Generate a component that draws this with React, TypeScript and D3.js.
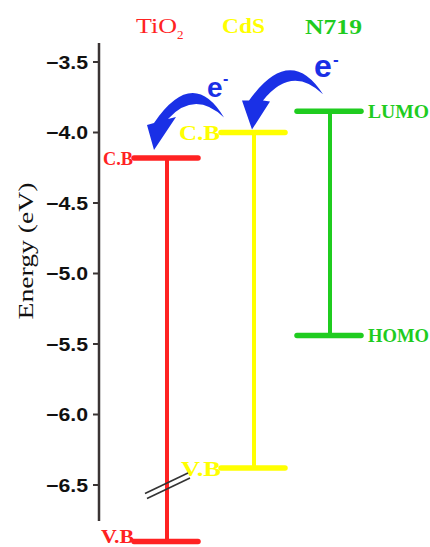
import React from 'react';
import * as d3 from 'd3';

// band edges (eV); TiO2 V.B sits below the axis break
const materials = ['TiO2', 'CdS', 'N719'];
const upperLevels = [-4.18, -4.0, -3.85];
const lowerLevels = [-6.9, -6.38, -5.44];
const upperLabels = ['C.B', 'C.B', 'LUMO'];
const lowerLabels = ['V.B', 'V.B', 'HOMO'];
const yTicks = [-3.5, -4.0, -4.5, -5.0, -5.5, -6.0, -6.5];
const colors = ['#ff2222', '#ffff00', '#1fcc1f'];

const W = 430;
const H = 547;
const BLUE = '#1a30e6';
const serif = '"Liberation Serif", "Times New Roman", serif';
const sans = '"Liberation Sans", Arial, sans-serif';

// curved electron-transfer arrow (crescent body + triangular head)
function arrowPath(tip: [number, number], tail: [number, number], o: number[][]) {
  const [co, ci, oe, ie, hl, hr] = o.map(([dx, dy]) => [tip[0] + dx, tip[1] + dy]);
  const p = d3.path();
  p.moveTo(tail[0], tail[1]);
  p.quadraticCurveTo(co[0], co[1], oe[0], oe[1]);
  p.lineTo(hl[0], hl[1]);
  p.lineTo(tip[0], tip[1]);
  p.lineTo(hr[0], hr[1]);
  p.lineTo(ie[0], ie[1]);
  p.quadraticCurveTo(ci[0], ci[1], tail[0], tail[1]);
  p.closePath();
  return p.toString();
}

export default function App() {
  const y = d3.scaleLinear().domain([-3.5, -6.5]).range([62, 485]);
  const x = d3.scaleOrdinal<string, number>().domain(materials).range([167, 254, 330]);
  const axisX = 99;
  const half = 32;

  const tickFmt = d3.format('.1f');

  const xT = x('TiO2');
  const xC = x('CdS');
  const xN = x('N719');

  const tip1: [number, number] = [xT - 13, y(upperLevels[0]) - 8];
  const tail1: [number, number] = [xC - 30, y(upperLevels[1]) - 15];
  const arrow1 = arrowPath(tip1, tail1, [
    [39, -84], [41, -60], [0, -27], [14, -31], [-7, -25], [22, -33],
  ]);
  const tip2: [number, number] = [xC - 2, y(upperLevels[1]) - 3];
  const tail2: [number, number] = [xN - 7, y(upperLevels[2]) - 17];
  const arrow2 = arrowPath(tip2, tail2, [
    [38, -86], [40, -65], [-3, -29], [11, -29], [-10, -29], [18, -28],
  ]);

  const lbl = (props: any, s: string) => (
    <text fontFamily={serif} fontWeight="bold" lengthAdjust="spacingAndGlyphs" {...props}>{s}</text>
  );

  return (
    <svg
      width={W}
      height={H}
      viewBox={`0 0 ${W} ${H}`}
      style={{ position: 'fixed', left: 0, top: 0, background: '#fff' }}
    >
      {/* y axis */}
      <line x1={axisX} x2={axisX} y1={43} y2={521} stroke="#3a3434" strokeWidth={2.5} />
      {yTicks.map((t) => (
        <g key={t}>
          <line x1={axisX - 6} x2={axisX} y1={y(t)} y2={y(t)} stroke="#3a3434" strokeWidth={2} />
          <text
            x={88}
            y={y(t) + 6.5}
            textAnchor="end"
            fontFamily={sans}
            fontWeight="bold"
            fontSize={18}
            textLength={42}
            lengthAdjust="spacingAndGlyphs"
            fill="#111"
          >
            {tickFmt(t)}
          </text>
        </g>
      ))}
      <text
        transform={`translate(33,251) rotate(-90)`}
        textAnchor="middle"
        fontFamily={serif}
        fontSize={21}
        textLength={137}
        lengthAdjust="spacingAndGlyphs"
        fill="#111"
      >
        Energy (eV)
      </text>

      {/* titles */}
      <text x={136} y={33} fontFamily={serif} fontSize={22} fill={colors[0]}>
        <tspan textLength={41} lengthAdjust="spacingAndGlyphs">TiO</tspan>
        <tspan fontSize={13} dy={6}>2</tspan>
      </text>
      <text x={222} y={33} fontFamily={serif} fontWeight="bold" fontSize={22} fill={colors[1]}
        textLength={43} lengthAdjust="spacingAndGlyphs">CdS</text>
      <text x={305} y={34} fontFamily={serif} fontWeight="bold" fontSize={22} fill={colors[2]}
        textLength={57} lengthAdjust="spacingAndGlyphs">N719</text>

      {/* band levels */}
      {materials.map((m, i) => {
        const cx = x(m);
        const yu = y(upperLevels[i]);
        const yl = y(lowerLevels[i]);
        return (
          <g key={m}>
            <line x1={cx} x2={cx} y1={yu} y2={yl} stroke={colors[i]} strokeWidth={4} />
            <line x1={cx - half - 1} x2={cx + half - 1} y1={yu} y2={yu} stroke={colors[i]} strokeWidth={5.5} strokeLinecap="round" />
            <line x1={cx - half - 1} x2={cx + half - 1} y1={yl} y2={yl} stroke={colors[i]} strokeWidth={5.5} strokeLinecap="round" />
          </g>
        );
      })}

      {/* level labels */}
      {lbl({ x: xT - half - 2, y: y(upperLevels[0]) + 7, textAnchor: 'end', fontSize: 19, fill: colors[0], textLength: 30 }, upperLabels[0])}
      {lbl({ x: xT - half - 1, y: 543, textAnchor: 'end', fontSize: 19, fill: colors[0], textLength: 33 }, lowerLabels[0])}
      {lbl({ x: xC - half - 2, y: y(upperLevels[1]) + 7, textAnchor: 'end', fontSize: 22, fill: colors[1], textLength: 41 }, upperLabels[1])}
      {lbl({ x: xC - half - 1, y: y(lowerLevels[1]) + 8, textAnchor: 'end', fontSize: 22, fill: colors[1], textLength: 40 }, lowerLabels[1])}
      {lbl({ x: xN + half + 6, y: y(upperLevels[2]) + 6.5, fontSize: 19, fill: colors[2], textLength: 61 }, upperLabels[2])}
      {lbl({ x: xN + half + 6, y: y(lowerLevels[2]) + 6.5, fontSize: 19, fill: colors[2], textLength: 61 }, lowerLabels[2])}

      {/* axis break on TiO2 */}
      {[0, 5].map((d) => (
        <line key={d} x1={xT - 22 + d * 0.4} y1={y(-6.56) + d} x2={xT + 21 + d * 0.4} y2={y(-6.415) + d}
          stroke="#333" strokeWidth={1.6} />
      ))}

      {/* electron transfer arrows */}
      <path d={arrow1} fill={BLUE} />
      <path d={arrow2} fill={BLUE} />
      <text x={207} y={97} fontFamily={sans} fontWeight="bold" fontSize={28} fill={BLUE}>e</text>
      <text x={223} y={84} fontFamily={sans} fontWeight="bold" fontSize={16} fill={BLUE}>-</text>
      <text x={314} y={77} fontFamily={sans} fontWeight="bold" fontSize={32} fill={BLUE}>e</text>
      <text x={333} y={65} fontFamily={sans} fontWeight="bold" fontSize={17} fill={BLUE}>-</text>
    </svg>
  );
}
